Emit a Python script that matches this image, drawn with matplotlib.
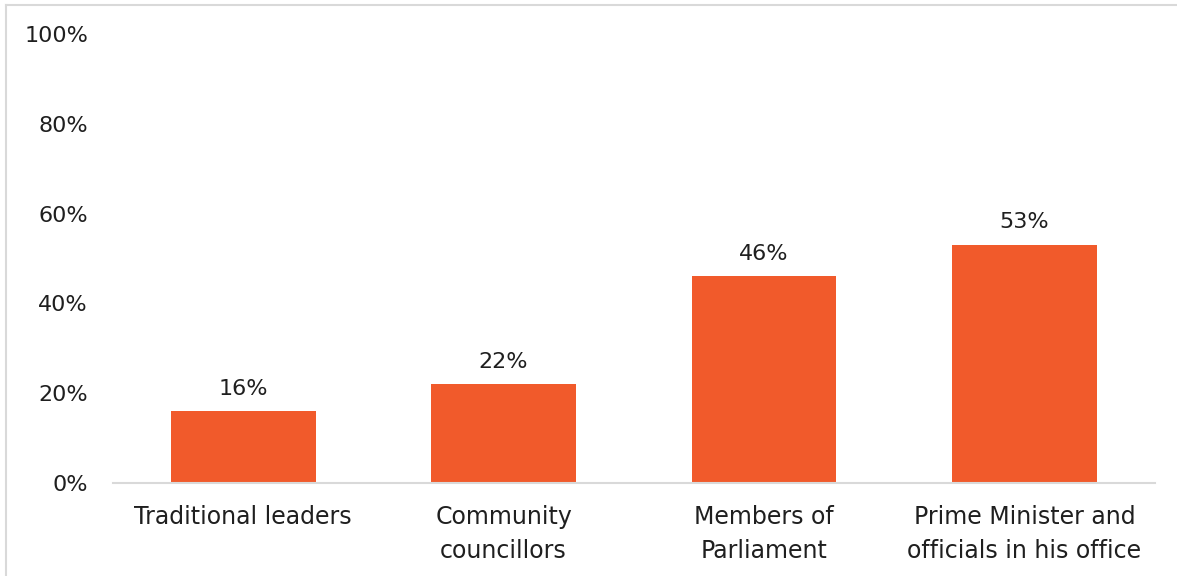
import matplotlib.pyplot as plt
from matplotlib.lines import Line2D

categories = ["Traditional leaders", "Community\ncouncillors", "Members of\nParliament",
              "Prime Minister and\nofficials in his office"]
values = [16, 22, 46, 53]
yticks = [0, 20, 40, 60, 80, 100]

plt.rcParams['font.family'] = ['DejaVu Sans']
text_color = '#1f1f1f'
bar_color = '#F15A2B'
grey = '#D9D9D9'

fig = plt.figure(figsize=(11.77, 5.76), dpi=100)
ax = fig.add_axes([0.096, 0.1615, 0.885, 0.7795])

x = range(len(categories))
ax.bar(x, values, width=0.556, color=bar_color, zorder=2)
for xi, v in zip(x, values):
    ax.text(xi, v + 2.8, f"{v}%", ha='center', va='bottom', fontsize=16, color=text_color)

ax.set_xlim(-0.5, len(categories) - 0.5)
ax.set_ylim(0, 100)
ax.set_yticks(yticks)
ax.set_yticklabels([f"{t}%" for t in yticks], fontsize=16, color=text_color)
ax.set_xticks(list(x))
ax.set_xticklabels(categories, fontsize=17, color=text_color, linespacing=1.5)
ax.tick_params(axis='both', length=0)
ax.tick_params(axis='y', pad=18)
ax.tick_params(axis='x', pad=16)

for s in ['top', 'right', 'left']:
    ax.spines[s].set_visible(False)
ax.spines['bottom'].set_color(grey)
ax.spines['bottom'].set_linewidth(1.5)

# outer chart border (left and top visible)
fig.add_artist(Line2D([0.005, 0.005], [0, 0.992], transform=fig.transFigure, color=grey, lw=1.5))
fig.add_artist(Line2D([0.005, 1.0], [0.992, 0.992], transform=fig.transFigure, color=grey, lw=1.5))

fig.savefig('out.png', dpi=100, facecolor='white')
